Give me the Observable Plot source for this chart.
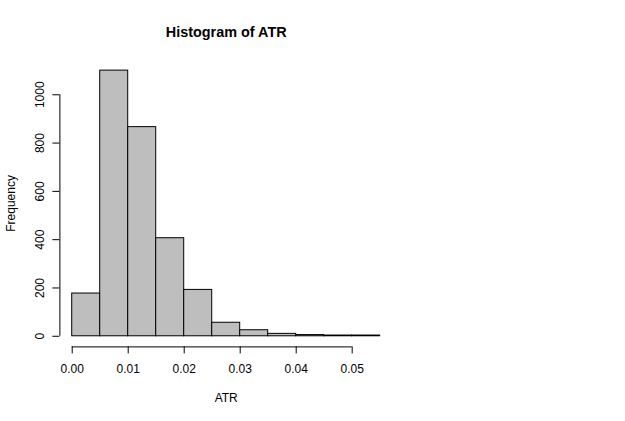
<!DOCTYPE html>
<html>
<head>
<meta charset="utf-8">
<script src="https://cdn.jsdelivr.net/npm/d3@7"></script>
<script src="https://cdn.jsdelivr.net/npm/@observablehq/plot@0.6"></script>
<style>
  html, body { margin: 0; padding: 0; background: white; }
</style>
</head>
<body>
<div id="chart"></div>
<script>
const breaks = [0, 0.005, 0.01, 0.015, 0.02, 0.025, 0.03, 0.035, 0.04, 0.045, 0.05, 0.055];
const counts = [177, 1100, 866, 406, 192, 56, 25, 10, 5, 3, 3];
const xTicks = [0, 0.01, 0.02, 0.03, 0.04, 0.05];
const yTicks = [0, 200, 400, 600, 800, 1000];
const title = "Histogram of ATR";
const xLabel = "ATR";
const yLabel = "Frequency";

const bins = counts.map((c, i) => ({x1: breaks[i], x2: breaks[i + 1], count: c}));

// R-style 4% axis extension
const xr = [breaks[0], breaks[breaks.length - 1]];
const xpad = (xr[1] - xr[0]) * 0.04;
const xDomain = [xr[0] - xpad, xr[1] + xpad];
const ymax = d3.max(counts);
const ypad = ymax * 0.04;
const yDomain = [-ypad, ymax + ypad];

const font = "'Liberation Sans', Arial, Helvetica, sans-serif";

const chart = Plot.plot({
  width: 625,
  height: 421,
  marginLeft: 59.4,
  marginRight: 233,
  marginTop: 59.5,
  marginBottom: 74.6,
  style: {fontFamily: font, fontSize: "12px", background: "white", color: "black"},
  x: {domain: xDomain, axis: null},
  y: {domain: yDomain, axis: null},
  marks: [
    Plot.rectY(bins, {x1: "x1", x2: "x2", y1: 0, y2: "count", fill: "#bebebe", stroke: "black", strokeWidth: 1}),
    // x axis
    Plot.ruleY([yDomain[0]], {x1: xTicks[0], x2: xTicks[xTicks.length - 1], stroke: "black"}),
    Plot.axisX({ticks: xTicks, tickSize: 7, tickPadding: 11, tickFormat: d3.format(".2f"), label: null, fontSize: 12, stroke: "black", fill: "black"}),
    // y axis
    Plot.ruleX([xDomain[0]], {y1: yTicks[0], y2: yTicks[yTicks.length - 1], stroke: "black"}),
    Plot.axisY({ticks: yTicks, tickSize: 7, tickFormat: () => "", label: null, stroke: "black"}),
    Plot.text(yTicks, {y: d => d, frameAnchor: "left", dx: -19.4, rotate: -90, text: d => String(d), textAnchor: "middle", lineAnchor: "middle", fontSize: 12, fill: "black"}),
    // titles
    Plot.text([title], {frameAnchor: "top", dy: -28, fontWeight: "bold", fontSize: 14.4, lineAnchor: "middle", fill: "black"}),
    Plot.text([xLabel], {frameAnchor: "bottom", dy: 51.6, fontSize: 12, lineAnchor: "middle", fill: "black"}),
    Plot.text([yLabel], {frameAnchor: "left", dx: -48.4, rotate: -90, fontSize: 12, lineAnchor: "middle", textAnchor: "middle", fill: "black"})
  ]
});
document.getElementById("chart").appendChild(chart);
</script>
</body>
</html>
